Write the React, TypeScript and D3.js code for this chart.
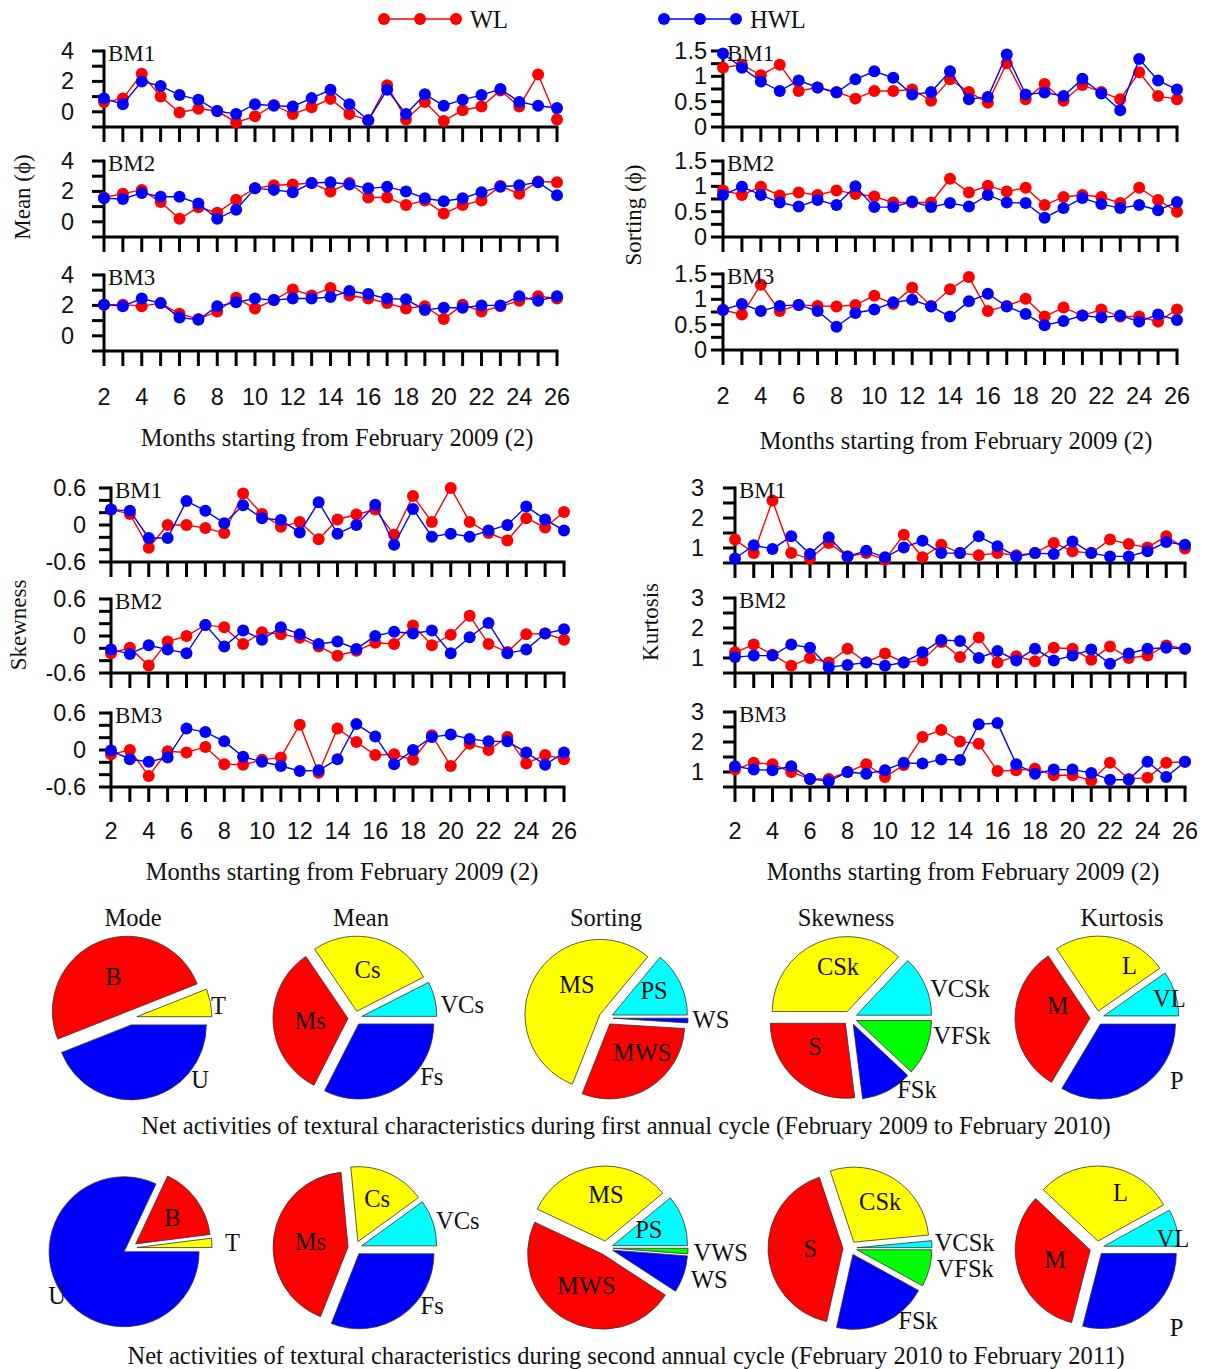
import React from "react";
import * as d3 from "d3";

const RED = "#ff0000";
const BLUE = "#0000ff";
const YELLOW = "#ffff00";
const CYAN = "#00ffff";
const GREEN = "#00ff00";
const SERIF = "'Liberation Serif', 'Times New Roman', serif";
const SANS = "'Liberation Sans', Arial, sans-serif";

// ---------- categories ----------
const months = [2, 3, 4, 5, 6, 7, 8, 9, 10, 11, 12, 13, 14, 15, 16, 17, 18, 19, 20, 21, 22, 23, 24, 25, 26];
const monthTickLabels = [2, 4, 6, 8, 10, 12, 14, 16, 18, 20, 22, 24, 26];
const seriesNames = ["WL", "HWL"];
const stationNames = ["BM1", "BM2", "BM3"];

// ---------- Mean (phi) ----------
const meanBM1WL = [0.65, 0.87, 2.5, 1.0, -0.05, 0.2, 0.05, -0.7, -0.3, 0.45, -0.15, 0.3, 0.85, -0.15, -0.55, 1.75, -0.5, 0.65, -0.6, 0.1, 0.35, 1.4, 0.35, 2.45, -0.5];
const meanBM1HWL = [0.87, 0.5, 2.0, 1.7, 1.1, 0.8, 0.05, -0.15, 0.5, 0.4, 0.35, 0.9, 1.45, 0.5, -0.55, 1.45, -0.15, 1.15, 0.4, 0.8, 1.1, 1.5, 0.65, 0.4, 0.25];
const meanBM2WL = [1.6, 1.85, 2.1, 1.3, 0.2, 0.95, 0.6, 1.45, 2.2, 2.4, 2.45, 2.55, 2.0, 2.55, 1.6, 1.6, 1.1, 1.4, 0.55, 1.1, 1.4, 2.35, 1.85, 2.65, 2.6];
const meanBM2HWL = [1.55, 1.5, 1.9, 1.65, 1.65, 1.2, 0.2, 0.8, 2.2, 2.1, 1.95, 2.55, 2.6, 2.45, 2.2, 2.3, 2.0, 1.55, 1.35, 1.55, 1.95, 2.3, 2.4, 2.6, 1.75];
const meanBM3WL = [2.05, 2.05, 1.95, 2.15, 1.45, 1.1, 1.6, 2.5, 1.8, 2.35, 3.05, 2.65, 3.15, 2.65, 2.45, 2.15, 1.8, 1.95, 1.1, 2.05, 1.6, 1.95, 2.3, 2.6, 2.45];
const meanBM3HWL = [2.05, 1.95, 2.45, 2.15, 1.2, 1.05, 1.95, 2.2, 2.45, 2.35, 2.45, 2.45, 2.55, 2.95, 2.75, 2.45, 2.4, 1.7, 1.85, 1.85, 2.0, 2.0, 2.6, 2.3, 2.6];

// ---------- Sorting (phi) ----------
const sortBM1WL = [1.17, 1.23, 1.02, 1.23, 0.71, 0.78, 0.69, 0.56, 0.71, 0.71, 0.74, 0.52, 0.94, 0.69, 0.48, 1.26, 0.55, 0.85, 0.52, 0.83, 0.69, 0.55, 1.08, 0.61, 0.55];
const sortBM1HWL = [1.45, 1.17, 0.9, 0.71, 0.92, 0.78, 0.68, 0.94, 1.1, 0.97, 0.64, 0.69, 1.1, 0.55, 0.59, 1.43, 0.64, 0.68, 0.61, 0.95, 0.66, 0.33, 1.34, 0.92, 0.74];
const sortBM2WL = [0.92, 0.83, 0.99, 0.82, 0.88, 0.83, 0.92, 0.85, 0.8, 0.68, 0.68, 0.68, 1.15, 0.88, 1.01, 0.9, 0.97, 0.63, 0.79, 0.83, 0.79, 0.67, 0.97, 0.73, 0.5];
const sortBM2HWL = [0.83, 0.99, 0.83, 0.68, 0.6, 0.73, 0.63, 1.0, 0.59, 0.59, 0.7, 0.59, 0.67, 0.6, 0.83, 0.68, 0.67, 0.38, 0.57, 0.77, 0.65, 0.57, 0.63, 0.53, 0.69];
const sortBM3WL = [0.79, 0.7, 1.29, 0.77, 0.89, 0.87, 0.86, 0.89, 1.07, 0.91, 1.23, 0.87, 1.2, 1.44, 0.77, 0.87, 1.01, 0.66, 0.84, 0.68, 0.8, 0.66, 0.66, 0.56, 0.8];
const sortBM3HWL = [0.79, 0.91, 0.77, 0.87, 0.89, 0.77, 0.46, 0.73, 0.8, 0.94, 0.99, 0.86, 0.66, 0.96, 1.11, 0.86, 0.71, 0.49, 0.57, 0.68, 0.64, 0.68, 0.56, 0.7, 0.59];

// ---------- Skewness ----------
const skewBM1WL = [0.25, 0.18, -0.37, 0.0, 0.0, -0.05, -0.13, 0.51, 0.18, -0.03, 0.05, -0.23, 0.09, 0.17, 0.25, -0.16, 0.47, 0.05, 0.6, 0.05, -0.13, -0.25, 0.11, -0.04, 0.21];
const skewBM1HWL = [0.25, 0.23, -0.21, -0.21, 0.39, 0.23, 0.03, 0.32, 0.11, 0.08, -0.12, 0.37, -0.14, 0.0, 0.33, -0.32, 0.26, -0.19, -0.14, -0.19, -0.09, 0.0, 0.3, 0.09, -0.09];
const skewBM2WL = [-0.28, -0.19, -0.48, -0.09, 0.0, 0.18, 0.14, -0.13, 0.06, 0.03, -0.03, -0.17, -0.32, -0.24, -0.11, -0.13, 0.17, -0.15, 0.02, 0.33, -0.13, -0.26, 0.03, 0.04, -0.06];
const skewBM2HWL = [-0.22, -0.29, -0.15, -0.22, -0.28, 0.18, -0.17, 0.09, -0.06, 0.14, 0.03, -0.13, -0.09, -0.21, 0.0, 0.07, 0.04, 0.09, -0.28, -0.02, 0.21, -0.28, -0.22, 0.04, 0.11];
const skewBM3WL = [-0.07, 0.0, -0.42, -0.02, -0.04, 0.05, -0.23, -0.24, -0.16, -0.12, 0.41, -0.37, 0.35, 0.13, -0.08, -0.07, -0.16, 0.24, -0.26, 0.1, 0.0, 0.21, -0.22, -0.08, -0.15];
const skewBM3HWL = [-0.01, -0.15, -0.19, -0.12, 0.35, 0.29, 0.14, -0.11, -0.19, -0.26, -0.34, -0.33, -0.15, 0.42, 0.22, -0.23, 0.0, 0.21, 0.25, 0.18, 0.14, 0.14, -0.04, -0.24, -0.04];

// ---------- Kurtosis ----------
const kurtBM1WL = [1.28, 0.83, 2.58, 0.83, 0.64, 1.17, 0.72, 0.83, 0.61, 1.44, 0.69, 1.11, 0.83, 0.76, 0.83, 0.76, 0.83, 1.17, 0.89, 0.83, 1.28, 1.13, 1.02, 1.39, 0.98];
const kurtBM1HWL = [0.65, 1.09, 0.97, 1.39, 0.8, 1.36, 0.72, 0.91, 0.69, 1.02, 1.24, 0.83, 0.83, 1.39, 1.06, 0.72, 0.83, 0.8, 1.22, 0.83, 0.72, 0.72, 0.89, 1.2, 1.11];
const kurtBM2WL = [1.19, 1.45, 1.11, 0.74, 1.0, 0.85, 1.31, 0.85, 1.15, 0.85, 0.92, 1.53, 1.03, 1.68, 0.85, 1.06, 0.89, 1.34, 1.31, 0.94, 1.38, 1.0, 1.08, 1.42, 1.31];
const kurtBM2HWL = [1.03, 1.08, 1.08, 1.45, 1.34, 0.69, 0.77, 0.85, 0.74, 0.85, 1.19, 1.6, 1.57, 1.0, 1.23, 0.92, 1.31, 0.92, 1.08, 1.28, 0.81, 1.15, 1.31, 1.34, 1.31];
const kurtBM3WL = [1.08, 1.31, 1.26, 1.0, 0.77, 0.77, 1.0, 1.26, 0.83, 1.23, 2.17, 2.4, 2.02, 1.94, 1.03, 1.06, 1.11, 0.89, 0.89, 0.72, 1.31, 0.77, 0.81, 1.31, 1.34];
const kurtBM3HWL = [1.19, 1.08, 1.06, 1.19, 0.77, 0.69, 1.0, 0.94, 1.06, 1.31, 1.28, 1.42, 1.4, 2.59, 2.63, 1.26, 0.94, 1.08, 1.08, 0.97, 0.74, 0.74, 1.34, 0.83, 1.34];

// ---------- Pie charts (percent shares, clockwise from 3 o'clock) ----------
const pieTitles = ["Mode", "Mean", "Sorting", "Skewness", "Kurtosis"];
const modeClasses = ["U", "B", "T"];
const meanClasses = ["Fs", "Ms", "Cs", "VCs"];
const sortClasses1 = ["WS", "MWS", "MS", "PS"];
const sortClasses2 = ["VWS", "WS", "MWS", "MS", "PS"];
const skewClasses = ["VFSk", "FSk", "S", "CSk", "VCSk"];
const kurtClasses = ["P", "M", "L", "VL"];

const modeCycle1 = [44, 50, 6];
const meanCycle1 = [32.5, 33, 27, 7.5];
const sortCycle1 = [1, 30, 55, 14];
const skewCycle1 = [12, 11, 27, 37, 13];
const kurtCycle1 = [33.6, 32, 24.7, 9.7];

const modeCycle2 = [82, 16, 2];
const meanCycle2 = [31, 42.5, 16.5, 10];
const sortCycle2 = [1.2, 8, 47.8, 32, 11];
const skewCycle2 = [8, 20.5, 41.4, 28.6, 1.5];
const kurtCycle2 = [29, 33, 30, 8];

const captions = [
  "Net activities of textural characteristics during first annual cycle (February 2009 to February 2010)",
  "Net activities of textural characteristics during second annual cycle (February 2010 to February 2011)",
];

// ---------- styles / layout (not data) ----------
const classColor: Record<string, string> = {
  U: BLUE, B: RED, T: YELLOW,
  Fs: BLUE, Ms: RED, Cs: YELLOW, VCs: CYAN,
  VWS: GREEN, WS: BLUE, MWS: RED, MS: YELLOW, PS: CYAN,
  VFSk: GREEN, FSk: BLUE, S: RED, CSk: YELLOW, VCSk: CYAN,
  P: BLUE, M: RED, L: YELLOW, VL: CYAN,
};

const TEXT_SIZE = 24.5;
const TICK_SIZE = 23.5;

type Sub = { label: string; wl: number[]; hwl: number[] };

type PanelProps = {
  x0: number; x1: number; tops: number[]; h: number;
  domain: [number, number]; ticks: number[]; labelTicks: number[];
  labelGap: number; subs: Sub[];
  yTitle: string; yTitleX: number; yTitleY: number;
  xTitleX: number; xTitleY: number; tickLabelY: number;
};

function LinePanel(p: PanelProps) {
  const x = d3.scaleLinear().domain([months[0], months[months.length - 1]]).range([p.x0, p.x1]);
  const fmt = (v: number) => String(+v.toFixed(2));
  return (
    <g>
      {p.subs.map((s, si) => {
        const top = p.tops[si];
        const y = d3.scaleLinear().domain(p.domain).range([top + p.h, top]);
        const yb = y(p.domain[0]);
        const line = d3.line<number>().x((_, i) => x(months[i])).y((d) => y(d));
        return (
          <g key={si}>
            <line x1={p.x0} x2={p.x0} y1={y(p.domain[1]) - 1.5} y2={yb} stroke="#000" strokeWidth={3} />
            {p.ticks.map((t) => (
              <line key={"yt" + t} x1={p.x0 - 12} x2={p.x0} y1={y(t)} y2={y(t)} stroke="#000" strokeWidth={3} />
            ))}
            {p.labelTicks.map((t) => (
              <text key={"yl" + t} x={p.x0 - p.labelGap} y={y(t)} textAnchor="end" dominantBaseline="central"
                fontFamily={SANS} fontSize={TICK_SIZE} fill="#111">{fmt(t)}</text>
            ))}
            <line x1={p.x0} x2={p.x1 + 1.5} y1={yb} y2={yb} stroke="#000" strokeWidth={3} />
            {months.map((m) => (
              <line key={"xt" + m} x1={x(m)} x2={x(m)} y1={yb} y2={yb + 15} stroke="#000" strokeWidth={3} />
            ))}
            <path d={line(s.wl) || ""} fill="none" stroke={RED} strokeWidth={1.4} />
            {s.wl.map((v, i) => (
              <circle key={"r" + i} cx={x(months[i])} cy={y(v)} r={6} fill={RED} />
            ))}
            <path d={line(s.hwl) || ""} fill="none" stroke={BLUE} strokeWidth={1.4} />
            {s.hwl.map((v, i) => (
              <circle key={"b" + i} cx={x(months[i])} cy={y(v)} r={6} fill={BLUE} />
            ))}
            <text x={p.x0 + 4} y={top + 2} dominantBaseline="central" fontFamily={SERIF} fontSize={23} fill="#111">{s.label}</text>
          </g>
        );
      })}
      {monthTickLabels.map((m) => (
        <text key={"xl" + m} x={x(m)} y={p.tickLabelY} textAnchor="middle" dominantBaseline="central"
          fontFamily={SANS} fontSize={TICK_SIZE} fill="#111">{m}</text>
      ))}
      <text x={p.xTitleX} y={p.xTitleY} textAnchor="middle" dominantBaseline="central" fontFamily={SERIF} fontSize={TEXT_SIZE} fill="#111">
        Months starting from February 2009 (2)
      </text>
      <text transform={`translate(${p.yTitleX},${p.yTitleY}) rotate(-90)`} textAnchor="middle" dominantBaseline="central"
        fontFamily={SERIF} fontSize={23} fill="#111">{p.yTitle}</text>
    </g>
  );
}

type Place = [number | null, number];

function Pie({ cx, cy, classes, values, places, R = 75, explode = 7 }:
  { cx: number; cy: number; classes: string[]; values: number[]; places: Place[]; R?: number; explode?: number }) {
  const arcs = d3.pie<number>().sort(null).startAngle(Math.PI / 2).endAngle(Math.PI / 2 + 2 * Math.PI)(values);
  const arc = d3.arc<d3.PieArcDatum<number>>().innerRadius(0).outerRadius(R);
  return (
    <g>
      {arcs.map((a, i) => {
        const mid = (a.startAngle + a.endAngle) / 2;
        const dx = explode * Math.sin(mid);
        const dy = -explode * Math.cos(mid);
        return (
          <path key={i} d={arc(a) || ""} transform={`translate(${cx + dx},${cy + dy})`}
            fill={classColor[classes[i]]} stroke="#333" strokeWidth={0.8} />
        );
      })}
      {arcs.map((a, i) => {
        const mid = (a.startAngle + a.endAngle) / 2;
        const [ang, rf] = places[i];
        const th = ang === null ? mid - Math.PI / 2 : (ang * Math.PI) / 180;
        return (
          <text key={"l" + i} x={cx + rf * R * Math.cos(th)} y={cy + rf * R * Math.sin(th)}
            textAnchor="middle" dominantBaseline="central" fontFamily={SERIF} fontSize={TEXT_SIZE} fill="#111">
            {classes[i]}
          </text>
        );
      })}
    </g>
  );
}

// label placement (angle deg clockwise from 3 o'clock, radius factor); null = slice bisector
const placeMode1: Place[] = [[41, 1.24], [null, 0.6], [-8, 1.19]];
const placeMean1: Place[] = [[37.5, 1.29], [null, 0.6], [null, 0.67], [-7, 1.44]];
const placeSort1: Place[] = [[1, 1.4], [44, 0.67], [-131, 0.59], [-30, 0.74]];
const placeSkew1: Place[] = [[9, 1.51], [47, 1.31], [141, 0.6], [-103, 0.71], [-15, 1.52]];
const placeKurt1: Place[] = [[38, 1.35], [-162, 0.55], [-58, 0.82], [-15, 1.0]];
const placeMode2: Place[] = [[147, 1.16], [null, 0.7], [-3, 1.37]];
const placeMean2: Place[] = [[36.5, 1.28], [null, 0.6], [null, 0.72], [-15, 1.42]];
const placeSort2: Place[] = [[2, 1.53], [17, 1.44], [118, 0.56], [-90, 0.71], [-23, 0.62]];
const placeSkew2: Place[] = [[10, 1.56], [47, 1.33], [180, 0.53], [-57, 0.74], [-2.5, 1.53]];
const placeKurt2: Place[] = [[45, 1.5], [164, 0.58], [-67, 0.8], [-7.5, 1.02]];

const pieX = [130, 355, 606, 850, 1097];
const pieTitleX = [133, 361, 606, 846, 1122];

function Legend() {
  const items = [
    { name: seriesNames[0], color: RED, x0: 384, x1: 456, tx: 470 },
    { name: seriesNames[1], color: BLUE, x0: 664, x1: 736, tx: 750 },
  ];
  return (
    <g>
      {items.map((it) => (
        <g key={it.name}>
          <line x1={it.x0} x2={it.x1} y1={19} y2={19} stroke={it.color} strokeWidth={1.6} />
          {[it.x0, (it.x0 + it.x1) / 2, it.x1].map((px, i) => (
            <circle key={i} cx={px} cy={19} r={6} fill={it.color} />
          ))}
          <text x={it.tx} y={19} dominantBaseline="central" fontFamily={SERIF} fontSize={TEXT_SIZE} fill="#111">{it.name}</text>
        </g>
      ))}
    </g>
  );
}

export default function App() {
  const subsOf = (arrs: number[][]): Sub[] =>
    stationNames.map((n, i) => ({ label: n, wl: arrs[i * 2], hwl: arrs[i * 2 + 1] }));
  const row1 = [
    { classes: modeClasses, values: modeCycle1, places: placeMode1 },
    { classes: meanClasses, values: meanCycle1, places: placeMean1 },
    { classes: sortClasses1, values: sortCycle1, places: placeSort1 },
    { classes: skewClasses, values: skewCycle1, places: placeSkew1 },
    { classes: kurtClasses, values: kurtCycle1, places: placeKurt1 },
  ];
  const row2 = [
    { classes: modeClasses, values: modeCycle2, places: placeMode2 },
    { classes: meanClasses, values: meanCycle2, places: placeMean2 },
    { classes: sortClasses2, values: sortCycle2, places: placeSort2 },
    { classes: skewClasses, values: skewCycle2, places: placeSkew2 },
    { classes: kurtClasses, values: kurtCycle2, places: placeKurt2 },
  ];
  return (
    <svg width={1208} height={1369} viewBox="0 0 1208 1369"
      style={{ position: "absolute", left: 0, top: 0, background: "#fff" }}>
      <rect x={0} y={0} width={1208} height={1369} fill="#fff" />
      <Legend />
      <LinePanel x0={104} x1={557} tops={[51, 161, 275]} h={76} domain={[-1, 4]}
        ticks={[-1, 0, 1, 2, 3, 4]} labelTicks={[0, 2, 4]} labelGap={30}
        subs={subsOf([meanBM1WL, meanBM1HWL, meanBM2WL, meanBM2HWL, meanBM3WL, meanBM3HWL])}
        yTitle="Mean (ϕ)" yTitleX={22} yTitleY={197} xTitleX={337} xTitleY={437} tickLabelY={397} />
      <LinePanel x0={723} x1={1177} tops={[51, 161, 274]} h={76} domain={[0, 1.5]}
        ticks={[0, 0.25, 0.5, 0.75, 1, 1.25, 1.5]} labelTicks={[0, 0.5, 1, 1.5]} labelGap={16}
        subs={subsOf([sortBM1WL, sortBM1HWL, sortBM2WL, sortBM2HWL, sortBM3WL, sortBM3HWL])}
        yTitle="Sorting (ϕ)" yTitleX={633} yTitleY={215} xTitleX={956} xTitleY={440} tickLabelY={396} />
      <LinePanel x0={111} x1={564} tops={[488, 599, 713]} h={74} domain={[-0.6, 0.6]}
        ticks={[-0.6, -0.4, -0.2, 0, 0.2, 0.4, 0.6]} labelTicks={[-0.6, 0, 0.6]} labelGap={25}
        subs={subsOf([skewBM1WL, skewBM1HWL, skewBM2WL, skewBM2HWL, skewBM3WL, skewBM3HWL])}
        yTitle="Skewness" yTitleX={18} yTitleY={625} xTitleX={342} xTitleY={871} tickLabelY={831} />
      <LinePanel x0={735} x1={1185} tops={[488, 598, 712]} h={75} domain={[0.5, 3]}
        ticks={[0.5, 1, 1.5, 2, 2.5, 3]} labelTicks={[1, 2, 3]} labelGap={31}
        subs={subsOf([kurtBM1WL, kurtBM1HWL, kurtBM2WL, kurtBM2HWL, kurtBM3WL, kurtBM3HWL])}
        yTitle="Kurtosis" yTitleX={650} yTitleY={622} xTitleX={963} xTitleY={871} tickLabelY={831} />

      {pieTitles.map((t, i) => (
        <text key={t} x={pieTitleX[i]} y={917} textAnchor="middle" dominantBaseline="central"
          fontFamily={SERIF} fontSize={TEXT_SIZE} fill="#111">{t}</text>
      ))}
      {row1.map((r, i) => (
        <Pie key={"p1" + i} cx={pieX[i]} cy={1018} classes={r.classes} values={r.values} places={r.places} />
      ))}
      {row2.map((r, i) => (
        <Pie key={"p2" + i} cx={pieX[i]} cy={1248} classes={r.classes} values={r.values} places={r.places} />
      ))}
      <text x={626} y={1125} textAnchor="middle" dominantBaseline="central" fontFamily={SERIF} fontSize={TEXT_SIZE} fill="#111">{captions[0]}</text>
      <text x={626} y={1355} textAnchor="middle" dominantBaseline="central" fontFamily={SERIF} fontSize={TEXT_SIZE} fill="#111">{captions[1]}</text>
    </svg>
  );
}
